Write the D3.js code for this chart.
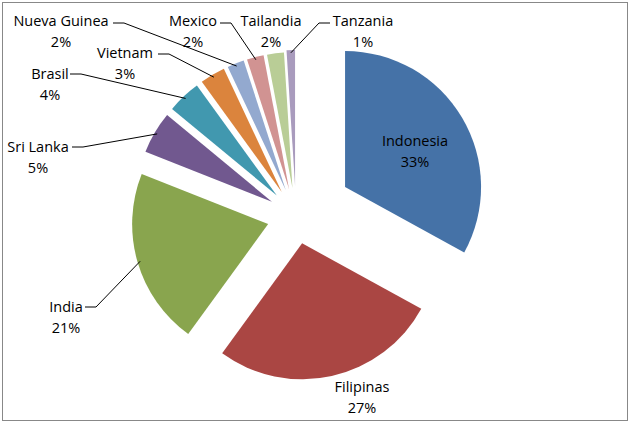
<!DOCTYPE html>
<html><head><meta charset="utf-8">
<script src="https://cdn.jsdelivr.net/npm/d3@7.9.0/dist/d3.min.js"></script>
<style>body{margin:0;background:#fff}text{font-family:"Open Sans",sans-serif;font-size:14.5px;fill:#000}</style>
</head><body>
<svg id="chart" width="631" height="424"></svg>
<script>
const countries = ["Indonesia","Filipinas","India","Sri Lanka","Brasil","Vietnam","Nueva Guinea","Mexico","Tailandia","Tanzania"];
const shares = [33,27,21,5,4,3,2,2,2,1];
const colors = ["#4572A7","#AA4643","#89A54E","#71588F","#4198AF","#DB843D","#93A9CF","#D19392","#B9CD96","#A99BBD"];
const explode = [57,28,29,28,28,28,28,28,28,30];
// label text centre x, first-line baseline y
const labelPos = [[415,146],[362,392],[66,312],[38,152],[50,79],[125,58],[61,26],[193,26],[271,26],[363,26]];
// leader start point and direction of the short horizontal stub
const leaderFrom = [null,null,[85,307,1],[72,147,1],[70,74,1],[158,54,1],[113,23,1],[220,23,1],null,[330,23,-1]];

const svg = d3.select("#chart");
svg.append("rect").attr("x",2.5).attr("y",2.5).attr("width",625).attr("height",418)
  .attr("fill","none").attr("stroke","#888");

const cx = 296, cy = 216, R = 136;
const pie = d3.pie().sort(null).value(d => d)(shares);
const arc = d3.arc().innerRadius(0).outerRadius(R);

const g = svg.append("g").attr("transform", `translate(${cx},${cy})`);
pie.forEach((p, i) => {
  const mid = (p.startAngle + p.endAngle) / 2;
  const dx = Math.sin(mid) * explode[i], dy = -Math.cos(mid) * explode[i];
  g.append("path").attr("d", arc(p)).attr("fill", colors[i])
    .attr("transform", `translate(${dx},${dy})`);
  const lf = leaderFrom[i];
  if (lf) {
    const ex = cx + dx + Math.sin(mid) * R * 0.98, ey = cy + dy - Math.cos(mid) * R * 0.98;
    svg.append("path")
      .attr("d", d3.line()([[lf[0], lf[1]], [lf[0] + lf[2] * 11, lf[1]], [ex, ey]]))
      .attr("fill", "none").attr("stroke", "#000").attr("stroke-width", 1);
  }
});

countries.forEach((c, i) => {
  const t = svg.append("text").attr("text-anchor","middle")
    .attr("x", labelPos[i][0]).attr("y", labelPos[i][1]);
  t.append("tspan").attr("x", labelPos[i][0]).text(c);
  t.append("tspan").attr("x", labelPos[i][0]).attr("dy", 21).text(shares[i] + "%");
});
</script>
</body></html>
